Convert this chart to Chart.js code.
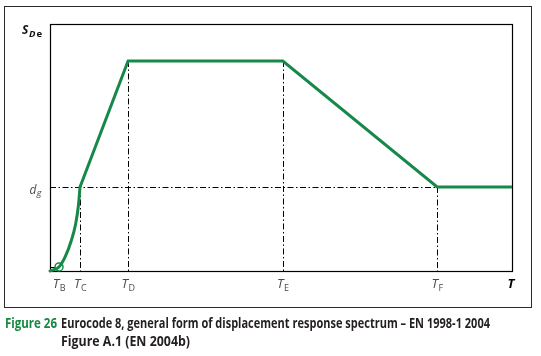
<!DOCTYPE html>
<html><head><meta charset="utf-8">
<script src="https://cdn.jsdelivr.net/npm/chart.js@4"></script>
<style>
html,body{margin:0;padding:0;background:#fff;}
#wrap{position:relative;width:541px;height:356px;overflow:hidden;background:#fff;}
#frame{position:absolute;left:4px;top:6px;width:528px;height:302px;border:1.5px solid #2a2a2a;box-sizing:border-box;}
canvas{position:absolute;left:0;top:0;}
.cap{position:absolute;font-family:"Open Sans";font-weight:700;font-size:14px;line-height:14px;white-space:nowrap;transform-origin:0 0;color:#231f20;}
.fig{color:#17893f;font-weight:700;}
</style></head>
<body>
<div id="wrap">
  <div id="frame"></div>
  <canvas id="c" width="541" height="356"></canvas>
  <div class="cap fig" id="cap0" style="left:5px;top:316px;" data-w="52">Figure 26</div>
  <div class="cap" id="cap1" style="left:61px;top:316px;" data-w="429">Eurocode 8, general form of displacement response spectrum – EN 1998-1 2004</div>
  <div class="cap" id="cap2" style="left:61px;top:334px;" data-w="129">Figure A.1 (EN 2004b)</div>
</div>
<script>
// ---- data ----
const tickValues = [1.95, 6.5, 16.9, 50.4, 83.8];
const tickSubs   = ['B', 'C', 'D', 'E', 'F'];
const curveX = [0, 1.95, 3.3, 4.6, 5.55, 6.15, 6.5];
const curveY = [0, 0.048, 0.17, 0.36, 0.56, 0.78, 1.0];
const lineX  = [6.5, 16.9, 50.4, 83.8, 100];
const lineY  = [1.0, 2.5, 2.5, 1.0, 1.0];
const dgValue = 1.0;
const xMax = 100, yMax = 2.94;

const GREEN = '#16894a';
const DASH = [6, 2.5, 1.5, 2.5];

function toPts(xs, ys){ return xs.map((x,i)=>({x:x, y:ys[i]})); }

function subLabel(ctx, cx, y, main, sub, mainFont, subFont, subDy, align){
  ctx.font = mainFont; const w1 = ctx.measureText(main).width;
  ctx.font = subFont; const w2 = ctx.measureText(sub).width;
  let x0 = align === 'right' ? cx - w1 - w2 : cx - (w1 + w2)/2;
  ctx.textAlign = 'left'; ctx.textBaseline = 'alphabetic';
  ctx.font = mainFont; ctx.fillText(main, x0, y);
  ctx.font = subFont; ctx.fillText(sub, x0 + w1 + 0.5, y + subDy);
}

const decor = {
  id: 'decor',
  beforeDatasetsDraw(chart){
    const ctx = chart.ctx, a = chart.chartArea;
    const xs = chart.scales.x, ys = chart.scales.y;
    ctx.save();
    // frame
    ctx.strokeStyle = '#000'; ctx.lineWidth = 1.2; ctx.setLineDash([]);
    ctx.strokeRect(a.left + 0.5, a.top + 0.5, a.right - a.left, a.bottom - a.top);
    // dashed reference lines
    ctx.lineWidth = 1; ctx.setLineDash(DASH);
    const y0 = ys.getPixelForValue(0);
    const vlines = [[lineX[0], lineY[0]], [lineX[1], lineY[1]], [lineX[2], lineY[2]], [lineX[3], lineY[3]]];
    vlines.forEach(([vx, vy]) => {
      const px = Math.round(xs.getPixelForValue(vx)) + 0.5;
      ctx.beginPath(); ctx.moveTo(px, ys.getPixelForValue(vy)); ctx.lineTo(px, y0); ctx.stroke();
    });
    const pdg = Math.round(ys.getPixelForValue(dgValue)) + 0.5;
    ctx.beginPath(); ctx.moveTo(a.left, pdg); ctx.lineTo(xs.getPixelForValue(lineX[3]), pdg); ctx.stroke();
    ctx.setLineDash([]);
    const pb = Math.round(ys.getPixelForValue(curveY[1])) + 0.5;
    ctx.beginPath(); ctx.moveTo(a.left, pb); ctx.lineTo(xs.getPixelForValue(curveX[1]), pb); ctx.stroke();

    // tick labels
    ctx.fillStyle = '#4a4a55';
    tickValues.forEach((v, i) => {
      subLabel(ctx, xs.getPixelForValue(v), 288, 'T', tickSubs[i], 'italic 13px "Open Sans"', '9px "Open Sans"', 3);
    });
    ctx.fillStyle = '#000';
    ctx.font = 'italic bold 13px "Open Sans"'; ctx.textAlign = 'center';
    ctx.fillText('T', xs.getPixelForValue(xMax) - 1, 288);
    // y labels
    ctx.fillStyle = '#4a4a55';
    subLabel(ctx, 41, 194, 'd', 'g', 'italic 12px "Open Sans"', 'italic 9px "Open Sans"', 2, 'right');
    ctx.fillStyle = '#111';
    ctx.textAlign = 'left';
    ctx.font = 'italic bold 12px "Open Sans"'; ctx.fillText('S', 22, 33.5);
    ctx.font = 'italic bold 9.5px "Open Sans"'; ctx.fillText('D', 29, 37);
    ctx.font = 'bold 9.5px "Open Sans"'; ctx.fillText('e', 36.5, 37);
    ctx.restore();
  }
};

new Chart(document.getElementById('c'), {
  type: 'line',
  data: { datasets: [
    { data: toPts(curveX, curveY), borderColor: GREEN, borderWidth: 3, tension: 0.4,
      cubicInterpolationMode: 'monotone', pointRadius: 0, fill: false, clip: false, borderCapStyle: 'round' },
    { data: toPts(lineX, lineY), borderColor: GREEN, borderWidth: 3, tension: 0,
      pointRadius: 0, fill: false, clip: false, borderJoinStyle: 'miter' },
    { data: [{x: curveX[1], y: curveY[1]}], showLine: false, pointRadius: 4,
      pointBackgroundColor: '#fff', pointBorderColor: GREEN, pointBorderWidth: 1.5, clip: false }
  ]},
  options: {
    responsive: false, animation: false, events: [],
    layout: { padding: { left: 50, top: 24, right: 29, bottom: 85 } },
    plugins: { legend: { display: false }, tooltip: { enabled: false } },
    scales: {
      x: { type: 'linear', display: false, min: 0, max: xMax },
      y: { type: 'linear', display: false, min: 0, max: yMax }
    }
  },
  plugins: [decor]
});

document.querySelectorAll('.cap').forEach(el => {
  const target = parseFloat(el.dataset.w);
  const w = el.getBoundingClientRect().width;
  el.style.transform = 'scaleX(' + (target / w) + ')';
});
</script>
</body></html>
